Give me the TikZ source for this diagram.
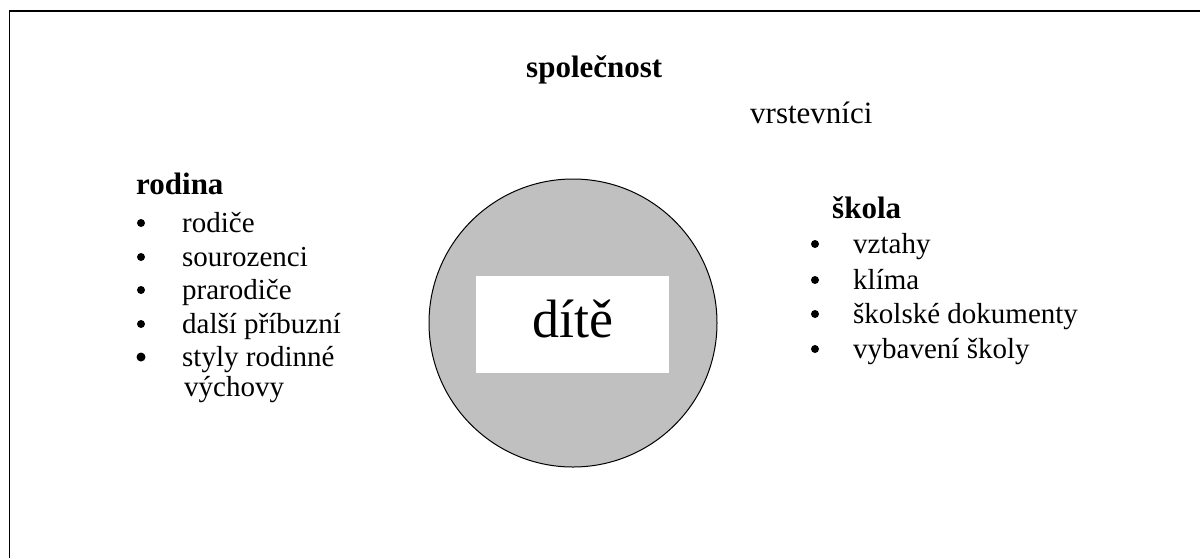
\documentclass[tikz,border=0pt]{standalone}
\usepackage{fontspec}
\setmainfont{Liberation Serif}
\definecolor{childgrey}{RGB}{192,192,192}
\tikzset{
  head/.style={anchor=base west, inner sep=0pt, font=\fontsize{31}{36}\selectfont\bfseries},
  item/.style={anchor=base west, inner sep=0pt, font=\fontsize{29}{34}\selectfont},
  dot/.style={circle, fill=black, inner sep=0pt, minimum size=8pt},
}
\begin{document}
\begin{tikzpicture}[x=1pt, y=-1pt]
  \useasboundingbox (0,0) rectangle (1200,558);
  % outer frame (right and bottom edges lie past the page)
  \draw[line width=1.5pt] (1200,11) -- (9.5,11) -- (9.5,558);

  % the child in the middle
  \node[circle, draw=black, line width=1pt, fill=childgrey, minimum size=288pt, inner sep=0pt] (circ) at (573,323) {};
  \node[fill=white, minimum width=193pt, minimum height=97pt, inner sep=0pt] (box) at (572.5,324.5) {};
  \node[anchor=base, inner sep=0pt, font=\fontsize{54}{60}\selectfont] (child) at (573,337) {dítě};

  % society and peers
  \node[head] (soc) at (526,77) {společnost};
  \node[item, font=\fontsize{31}{36}\selectfont] (peers) at (750,123) {vrstevníci};

  % family
  \node[head] (fam) at (136,194) {rodina};
  \node[item] (f1) at (182,232) {rodiče};
  \node[item] (f2) at (182,266) {sourozenci};
  \node[item] (f3) at (182,299) {prarodiče};
  \node[item] (f4) at (182,333) {další příbuzní};
  \node[item] (f5) at (182,366) {styly rodinné};
  \node[item] (f6) at (184,396) {výchovy};
  \node[dot] (fd1) at (141,223) {};
  \node[dot] (fd2) at (141,257) {};
  \node[dot] (fd3) at (141,290) {};
  \node[dot] (fd4) at (141,324) {};
  \node[dot, minimum size=9pt] (fd5) at (141,357) {};

  % school
  \node[head] (sch) at (832,218) {škola};
  \node[item] (s1) at (853,253) {vztahy};
  \node[item] (s2) at (853,289) {klíma};
  \node[item] (s3) at (853,323) {školské dokumenty};
  \node[item] (s4) at (853,358) {vybavení školy};
  \node[dot] (sd1) at (815,244) {};
  \node[dot] (sd2) at (815,280) {};
  \node[dot] (sd3) at (815,314) {};
  \node[dot] (sd4) at (815,349) {};
\end{tikzpicture}
\end{document}
